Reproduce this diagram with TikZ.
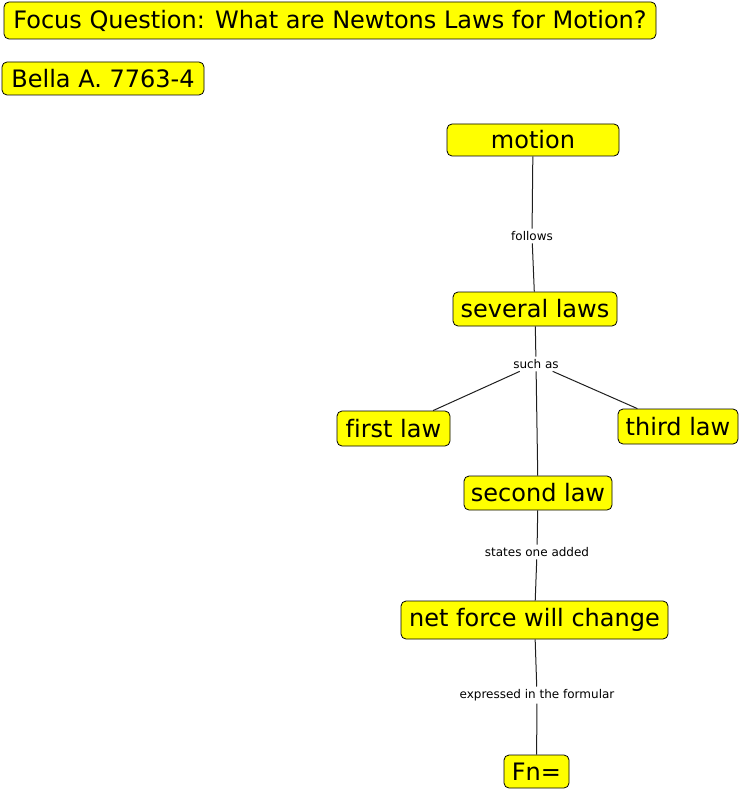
\documentclass[tikz,border=0pt]{standalone}
\usepackage{fontspec}
\setmainfont{DejaVu Sans}[Ligatures=CommonOff]
\definecolor{cyellow}{RGB}{255,255,0}
\definecolor{lineclr}{RGB}{30,30,30}
\begin{document}
\begin{tikzpicture}[x=1pt,y=-1pt,
  concept/.style={draw=black, fill=cyellow, rounded corners=5pt, line width=0.8pt,
    inner sep=0pt, font=\fontsize{24}{28}\selectfont},
  linklabel/.style={inner sep=2.5pt, font=\fontsize{12}{14}\selectfont, text=black},
  conn/.style={draw=lineclr, line width=1pt}]
\useasboundingbox (0,0) rectangle (741,791);
\node[concept, minimum width=652pt, minimum height=37pt] (focus) at (330,20.5) {Focus Question: What are Newtons Laws for Motion?};
\node[concept, minimum width=202pt, minimum height=33pt] (bella) at (103,78.5) {Bella A. 7763-4};
\node[concept, minimum width=172pt, minimum height=32pt] (motion) at (533,140) {motion};
\node[concept, minimum width=164pt, minimum height=34pt] (several) at (535,309) {several laws};
\node[concept, minimum width=113pt, minimum height=35pt] (first) at (393.5,428.5) {first law};
\node[concept, minimum width=120pt, minimum height=35pt] (third) at (678,426.5) {third law};
\node[concept, minimum width=148pt, minimum height=34pt] (second) at (538,493) {second law};
\node[concept, minimum width=267pt, minimum height=38pt] (netforce) at (534.5,620) {net force will change};
\node[concept, minimum width=65pt, minimum height=33pt] (fn) at (536.5,771.5) {Fn=};
\node[linklabel] (follows) at (532,236) {follows};
\node[linklabel] (suchas) at (536,364) {such as};
\node[linklabel] (states) at (537,552) {states one added};
\node[linklabel] (expressed) at (537,695) {expressed in the formular};
\draw[conn] (motion) -- (follows);
\draw[conn] (follows) -- (several);
\draw[conn] (several) -- (suchas);
\draw[conn] (suchas) -- (first);
\draw[conn] (suchas) -- (third);
\draw[conn] (suchas) -- (second);
\draw[conn] (second) -- (states);
\draw[conn] (states) -- (netforce);
\draw[conn] (netforce) -- (expressed);
\draw[conn] (expressed) -- (fn);
\end{tikzpicture}
\end{document}
